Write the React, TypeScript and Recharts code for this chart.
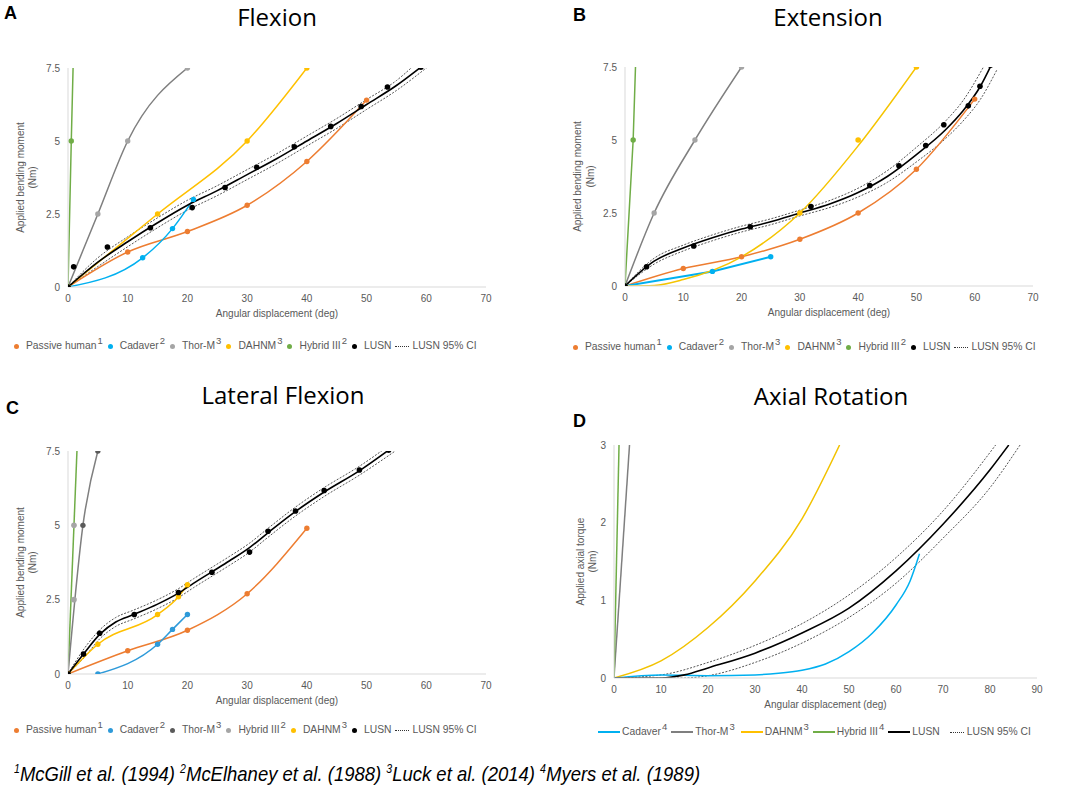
import React from "react";
import { ComposedChart, Line, Scatter, XAxis, YAxis, Label } from "recharts";

type Pt = { x: number; y: number };

// ---- A: Flexion ----
const flexPassive: Pt[] = [
  { x: 0, y: 0 }, { x: 10, y: 1.2 }, { x: 20, y: 1.9 }, { x: 30, y: 2.8 }, { x: 40, y: 4.3 }, { x: 50, y: 6.4 },
];
const flexCadaver: Pt[] = [
  { x: 0, y: 0 }, { x: 12.5, y: 1.0 }, { x: 17.5, y: 2.0 }, { x: 21, y: 3.0 },
];
const flexThor: Pt[] = [
  { x: 0, y: 0 }, { x: 5, y: 2.5 }, { x: 10, y: 5 }, { x: 20, y: 7.5 },
];
const flexDahnm: Pt[] = [
  { x: 0, y: 0 }, { x: 15, y: 2.5 }, { x: 30, y: 5 }, { x: 40, y: 7.5 },
];
const flexHybrid: Pt[] = [
  { x: 0, y: 0 }, { x: 0.55, y: 5 }, { x: 1.15, y: 10 },
];
const flexLusnDots: Pt[] = [
  { x: 0, y: 0 }, { x: 0.95, y: 0.69 }, { x: 6.6, y: 1.37 }, { x: 13.8, y: 2.03 }, { x: 20.8, y: 2.72 },
  { x: 26.3, y: 3.41 }, { x: 31.6, y: 4.1 }, { x: 37.9, y: 4.8 }, { x: 44, y: 5.5 }, { x: 49.1, y: 6.18 },
  { x: 53.5, y: 6.85 }, { x: 59.1, y: 7.53 },
];
const flexLusn: Pt[] = [
  { x: 0, y: 0 }, { x: 5, y: 0.85 }, { x: 10, y: 1.55 }, { x: 15, y: 2.2 }, { x: 20, y: 2.8 }, { x: 25, y: 3.3 },
  { x: 30, y: 3.85 }, { x: 35, y: 4.4 }, { x: 40, y: 5.0 }, { x: 45, y: 5.6 }, { x: 50, y: 6.25 },
  { x: 55, y: 6.9 }, { x: 59.1, y: 7.53 },
];
const flexCiHi: Pt[] = [
  { x: 0, y: 0 }, { x: 5, y: 1.0 }, { x: 10, y: 1.72 }, { x: 15, y: 2.37 }, { x: 20, y: 2.97 }, { x: 25, y: 3.47 },
  { x: 30, y: 4.02 }, { x: 35, y: 4.57 }, { x: 40, y: 5.17 }, { x: 45, y: 5.77 }, { x: 50, y: 6.42 },
  { x: 55, y: 7.07 }, { x: 58, y: 7.6 },
];
const flexCiLo: Pt[] = [
  { x: 0, y: 0 }, { x: 5, y: 0.7 }, { x: 10, y: 1.38 }, { x: 15, y: 2.03 }, { x: 20, y: 2.63 }, { x: 25, y: 3.13 },
  { x: 30, y: 3.68 }, { x: 35, y: 4.23 }, { x: 40, y: 4.83 }, { x: 45, y: 5.43 }, { x: 50, y: 6.08 },
  { x: 55, y: 6.73 }, { x: 60.3, y: 7.55 },
];

// ---- B: Extension ----
const extPassive: Pt[] = [
  { x: 0, y: 0 }, { x: 10, y: 0.6 }, { x: 20, y: 1.0 }, { x: 30, y: 1.6 }, { x: 40, y: 2.5 }, { x: 50, y: 4.0 }, { x: 60, y: 6.4 },
];
const extCadaver: Pt[] = [
  { x: 0, y: 0 }, { x: 15, y: 0.5 }, { x: 25, y: 1.0 },
];
const extThor: Pt[] = [
  { x: 0, y: 0 }, { x: 5, y: 2.5 }, { x: 12, y: 5 }, { x: 20, y: 7.5 },
];
const extDahnm: Pt[] = [
  { x: 0, y: 0 }, { x: 5, y: 0.02 }, { x: 10, y: 0.22 }, { x: 20, y: 1.0 }, { x: 30, y: 2.5 }, { x: 40, y: 4.8 }, { x: 50, y: 7.5 },
];
const extDahnmDots: Pt[] = [{ x: 30, y: 2.5 }, { x: 40, y: 5 }, { x: 50, y: 7.5 }];
const extHybrid: Pt[] = [
  { x: 0, y: 0 }, { x: 1.4, y: 5 }, { x: 2.2, y: 10 },
];
const extLusnDots: Pt[] = [
  { x: 0, y: 0 }, { x: 3.7, y: 0.66 }, { x: 11.8, y: 1.37 }, { x: 21.5, y: 2.03 }, { x: 31.9, y: 2.72 },
  { x: 42, y: 3.44 }, { x: 47, y: 4.12 }, { x: 51.6, y: 4.81 }, { x: 54.7, y: 5.52 }, { x: 58.9, y: 6.17 },
  { x: 60.9, y: 6.84 }, { x: 62.7, y: 7.56 },
];
const extLusn: Pt[] = [
  { x: 0, y: 0 }, { x: 5, y: 0.85 }, { x: 10, y: 1.3 }, { x: 15, y: 1.65 }, { x: 20, y: 1.95 }, { x: 25, y: 2.2 },
  { x: 30, y: 2.5 }, { x: 35, y: 2.8 }, { x: 40, y: 3.2 }, { x: 45, y: 3.75 }, { x: 50, y: 4.5 },
  { x: 55, y: 5.35 }, { x: 58, y: 6.0 }, { x: 61, y: 6.85 }, { x: 62.8, y: 7.55 },
];
const extCiHi: Pt[] = [
  { x: 0, y: 0 }, { x: 5, y: 0.95 }, { x: 10, y: 1.4 }, { x: 15, y: 1.75 }, { x: 20, y: 2.05 }, { x: 25, y: 2.3 },
  { x: 30, y: 2.6 }, { x: 35, y: 2.92 }, { x: 40, y: 3.35 }, { x: 45, y: 3.95 }, { x: 50, y: 4.75 },
  { x: 55, y: 5.65 }, { x: 58, y: 6.35 }, { x: 61.5, y: 7.5 },
];
const extCiLo: Pt[] = [
  { x: 0, y: 0 }, { x: 5, y: 0.75 }, { x: 10, y: 1.2 }, { x: 15, y: 1.55 }, { x: 20, y: 1.85 }, { x: 25, y: 2.1 },
  { x: 30, y: 2.4 }, { x: 35, y: 2.68 }, { x: 40, y: 3.05 }, { x: 45, y: 3.55 }, { x: 50, y: 4.25 },
  { x: 55, y: 5.05 }, { x: 58, y: 5.65 }, { x: 61, y: 6.4 }, { x: 63.8, y: 7.4 },
];

// ---- C: Lateral Flexion ----
const latPassive: Pt[] = [
  { x: 0, y: 0 }, { x: 10, y: 0.78 }, { x: 20, y: 1.47 }, { x: 30, y: 2.7 }, { x: 40, y: 4.9 },
];
const latCadaver: Pt[] = [
  { x: 5, y: 0 }, { x: 15, y: 1.0 }, { x: 17.5, y: 1.5 }, { x: 20, y: 2.0 },
];
const latThor: Pt[] = [
  { x: 0, y: 0 }, { x: 2.5, y: 5 }, { x: 5, y: 7.5 },
];
const latHybridDots: Pt[] = [{ x: 1, y: 2.5 }, { x: 1, y: 5 }];
const latGreen: Pt[] = [{ x: 0, y: 0 }, { x: 1.5, y: 7.5 }];
const latDahnm: Pt[] = [
  { x: 0, y: 0 }, { x: 5, y: 1.0 }, { x: 15, y: 2.0 }, { x: 18.5, y: 2.6 }, { x: 20, y: 3.0 },
];
const latLusnDots: Pt[] = [
  { x: 0, y: 0 }, { x: 2.6, y: 0.67 }, { x: 5.3, y: 1.37 }, { x: 11.1, y: 2.0 }, { x: 18.5, y: 2.74 },
  { x: 24.1, y: 3.42 }, { x: 30.4, y: 4.1 }, { x: 33.5, y: 4.8 }, { x: 38.1, y: 5.48 }, { x: 42.9, y: 6.17 },
  { x: 48.8, y: 6.86 }, { x: 53.7, y: 7.53 },
];
const latLusn: Pt[] = [
  { x: 0, y: 0 }, { x: 2.7, y: 0.7 }, { x: 5.4, y: 1.35 }, { x: 8, y: 1.75 }, { x: 11, y: 2.0 }, { x: 15, y: 2.35 },
  { x: 18.5, y: 2.72 }, { x: 21, y: 3.05 }, { x: 24.2, y: 3.45 }, { x: 27, y: 3.8 }, { x: 30.4, y: 4.25 },
  { x: 33.5, y: 4.75 }, { x: 38, y: 5.45 }, { x: 42.9, y: 6.12 }, { x: 48.9, y: 6.85 }, { x: 53.7, y: 7.53 },
];
const latCiHi: Pt[] = [
  { x: 0, y: 0 }, { x: 2.7, y: 0.85 }, { x: 5.4, y: 1.5 }, { x: 8, y: 1.9 }, { x: 11, y: 2.15 }, { x: 15, y: 2.5 },
  { x: 18.5, y: 2.87 }, { x: 21, y: 3.2 }, { x: 24.2, y: 3.6 }, { x: 27, y: 3.95 }, { x: 30.4, y: 4.4 },
  { x: 33.5, y: 4.9 }, { x: 38, y: 5.6 }, { x: 42.9, y: 6.27 }, { x: 48.9, y: 7.0 }, { x: 53.2, y: 7.6 },
];
const latCiLo: Pt[] = [
  { x: 0, y: 0 }, { x: 2.7, y: 0.55 }, { x: 5.4, y: 1.2 }, { x: 8, y: 1.6 }, { x: 11, y: 1.85 }, { x: 15, y: 2.2 },
  { x: 18.5, y: 2.57 }, { x: 21, y: 2.9 }, { x: 24.2, y: 3.3 }, { x: 27, y: 3.65 }, { x: 30.4, y: 4.1 },
  { x: 33.5, y: 4.6 }, { x: 38, y: 5.3 }, { x: 42.9, y: 5.97 }, { x: 48.9, y: 6.7 }, { x: 54.8, y: 7.5 },
];

// ---- D: Axial Rotation ----
const axCadaver: Pt[] = [
  { x: 0, y: 0 }, { x: 10, y: 0.04 }, { x: 20, y: 0.03 }, { x: 30, y: 0.04 }, { x: 35, y: 0.06 }, { x: 40, y: 0.1 },
  { x: 45, y: 0.18 }, { x: 50, y: 0.34 }, { x: 55, y: 0.58 }, { x: 60, y: 0.94 }, { x: 63, y: 1.25 }, { x: 65, y: 1.6 },
];
const axThor: Pt[] = [{ x: 0, y: 0 }, { x: 3.3, y: 3 }];
const axHybrid: Pt[] = [{ x: 0, y: 0 }, { x: 1.07, y: 3 }];
const axDahnm: Pt[] = [
  { x: 0, y: 0 }, { x: 10, y: 0.22 }, { x: 20, y: 0.65 }, { x: 30, y: 1.25 }, { x: 40, y: 2.05 }, { x: 48, y: 3.0 },
];
const axLusn: Pt[] = [
  { x: 0, y: 0 }, { x: 10, y: 0.0 }, { x: 15, y: 0.04 }, { x: 20, y: 0.13 }, { x: 30, y: 0.32 }, { x: 40, y: 0.58 },
  { x: 50, y: 0.9 }, { x: 60, y: 1.38 }, { x: 70, y: 1.98 }, { x: 80, y: 2.68 }, { x: 84, y: 3.0 },
];
const axCiHi: Pt[] = [
  { x: 0, y: 0 }, { x: 10, y: 0.04 }, { x: 20, y: 0.2 }, { x: 30, y: 0.42 }, { x: 40, y: 0.7 }, { x: 50, y: 1.07 },
  { x: 60, y: 1.55 }, { x: 70, y: 2.15 }, { x: 81.2, y: 3.0 },
];
const axCiLo: Pt[] = [
  { x: 0, y: 0 }, { x: 15, y: 0 }, { x: 20, y: 0.03 }, { x: 30, y: 0.2 }, { x: 40, y: 0.45 }, { x: 50, y: 0.78 },
  { x: 60, y: 1.22 }, { x: 70, y: 1.8 }, { x: 80, y: 2.45 }, { x: 86.4, y: 3.0 },
];

const ticks70 = [0, 10, 20, 30, 40, 50, 60, 70];
const ticks90 = [0, 10, 20, 30, 40, 50, 60, 70, 80, 90];
const ticksMoment = [0, 2.5, 5, 7.5];
const ticksTorque = [0, 1, 2, 3];

const ORANGE = "#ED7D31";
const BLUE = "#00B0F0";
const BLUE_C = "#2E9AD9";
const GRAY = "#7F7F7F";
const LIGHT = "#A5A5A5";
const DARK = "#5A5A5A";
const YELLOW = "#FFC000";
const GREEN = "#70AD47";
const TEXT = "#595959";
const AXIS = "#D9D9D9";
const FONT = "'Liberation Sans', Arial, sans-serif";

type Series = {
  data: Pt[];
  stroke: string;
  dot?: string;
  width?: number;
  dash?: string;
  curve?: "monotone" | "linear";
};

const makeDot = (fill: string, yMax: number) => (p: any) => {
  if (p.payload.y > yMax + 0.01) return <g key={p.index} />;
  return <circle key={p.index} cx={p.cx} cy={p.cy} r={2.7} fill={fill} />;
};

const dotShape = (fill: string) => (p: any) => <circle cx={p.cx} cy={p.cy} r={2.8} fill={fill} />;

type PanelProps = {
  left: number;
  top: number;
  width: number;
  height: number;
  margin: { top: number; right: number; bottom: number; left: number };
  yWidth: number;
  xMax: number;
  xTicks: number[];
  yMax: number;
  yTicks: number[];
  yTitle: string;
  yOffsets: number[];
  series: Series[];
  dots?: { data: Pt[]; fill: string }[];
};

function Panel(props: PanelProps) {
  const { left, top, width, height, margin, yWidth, xMax, xTicks, yMax, yTicks, yTitle, yOffsets, series, dots = [] } = props;
  return (
    <div style={{ position: "absolute", left, top, width, height }}>
      <ComposedChart width={width} height={height} margin={margin}>
        <XAxis
          type="number"
          dataKey="x"
          domain={[0, xMax]}
          ticks={xTicks}
          interval={0}
          height={30}
          allowDataOverflow
          tickLine={false}
          axisLine={{ stroke: AXIS }}
          tick={{ fontSize: 10, fill: TEXT, fontFamily: FONT }}
        >
          <Label
            content={(p: any) => {
              const vb = p.viewBox;
              return (
                <text x={vb.x + vb.width / 2} y={vb.y + 30} textAnchor="middle" fontSize={10} fill={TEXT} fontFamily={FONT}>
                  Angular displacement (deg)
                </text>
              );
            }}
          />
        </XAxis>
        <YAxis
          type="number"
          dataKey="y"
          domain={[0, yMax]}
          ticks={yTicks}
          interval={0}
          width={yWidth}
          allowDataOverflow
          tickLine={false}
          axisLine={{ stroke: AXIS }}
          tick={{ fontSize: 10, fill: TEXT, fontFamily: FONT }}
        >
          <Label
            content={(p: any) => {
              const vb = p.viewBox;
              const cy = vb.y + vb.height / 2;
              const right = vb.x + vb.width;
              return (
                <g>
                  {[yTitle, "(Nm)"].map((t, i) => {
                    const cx = right - yOffsets[i];
                    return (
                      <text
                        key={t}
                        x={cx}
                        y={cy}
                        transform={`rotate(-90 ${cx} ${cy})`}
                        textAnchor="middle"
                        dominantBaseline="central"
                        fontSize={10}
                        fill={TEXT}
                        fontFamily={FONT}
                      >
                        {t}
                      </text>
                    );
                  })}
                </g>
              );
            }}
          />
        </YAxis>
        {series.map((s, i) => (
          <Line
            key={i}
            data={s.data}
            dataKey="y"
            type={s.curve ?? "monotone"}
            stroke={s.stroke}
            strokeWidth={s.width ?? 1.5}
            strokeDasharray={s.dash}
            dot={s.dot ? makeDot(s.dot, yMax) : false}
            activeDot={false}
            isAnimationActive={false}
          />
        ))}
        {dots.map((d, i) => (
          <Scatter key={"s" + i} data={d.data} dataKey="y" shape={dotShape(d.fill)} isAnimationActive={false} />
        ))}
      </ComposedChart>
    </div>
  );
}

type LegendItem = { label: string; sup?: string; color: string; kind: "dot" | "line" | "dash"; gap?: number };

function ChartLegend({ left, top, items }: { left: number; top: number; items: LegendItem[] }) {
  return (
    <div
      style={{
        position: "absolute",
        left,
        top,
        display: "flex",
        alignItems: "center",
        fontFamily: FONT,
        fontSize: 10.3,
        color: TEXT,
        whiteSpace: "nowrap",
        lineHeight: "14px",
      }}
    >
      {items.map((it) => (
        <span key={it.label} style={{ display: "flex", alignItems: "center", marginRight: it.gap ?? 5 }}>
          {it.kind === "dot" && (
            <span style={{ width: 5, height: 5, borderRadius: 3, background: it.color, marginRight: 7 }} />
          )}
          {it.kind === "line" && (
            <span style={{ width: 22, height: 0, borderTop: `2px solid ${it.color}`, marginRight: 2 }} />
          )}
          {it.kind === "dash" && (
            <span style={{ width: 14, height: 0, borderTop: `1px dotted ${it.color}`, marginRight: 3 }} />
          )}
          <span>{it.label}</span>
          {it.sup && <span style={{ fontSize: 9.5, position: "relative", top: -5, marginLeft: 1 }}>{it.sup}</span>}
        </span>
      ))}
    </div>
  );
}

const legendTop: LegendItem[] = [
  { label: "Passive human", sup: "1", color: ORANGE, kind: "dot" },
  { label: "Cadaver", sup: "2", color: BLUE, kind: "dot" },
  { label: "Thor-M", sup: "3", color: LIGHT, kind: "dot" },
  { label: "DAHNM", sup: "3", color: YELLOW, kind: "dot" },
  { label: "Hybrid III", sup: "2", color: GREEN, kind: "dot" },
  { label: "LUSN", color: "#000", kind: "dot", gap: 4 },
  { label: "LUSN 95% CI", color: "#333", kind: "dash" },
];
const legendC: LegendItem[] = [
  { label: "Passive human", sup: "1", color: ORANGE, kind: "dot" },
  { label: "Cadaver", sup: "2", color: BLUE_C, kind: "dot" },
  { label: "Thor-M", sup: "3", color: DARK, kind: "dot" },
  { label: "Hybrid III", sup: "2", color: LIGHT, kind: "dot" },
  { label: "DAHNM", sup: "3", color: YELLOW, kind: "dot" },
  { label: "LUSN", color: "#000", kind: "dot", gap: 4 },
  { label: "LUSN 95% CI", color: "#333", kind: "dash" },
];
const legendD: LegendItem[] = [
  { label: "Cadaver", sup: "4", color: BLUE, kind: "line", gap: 4 },
  { label: "Thor-M", sup: "3", color: GRAY, kind: "line", gap: 6 },
  { label: "DAHNM", sup: "3", color: YELLOW, kind: "line", gap: 4 },
  { label: "Hybrid III", sup: "4", color: GREEN, kind: "line", gap: 4 },
  { label: "LUSN", color: "#000", kind: "line", gap: 10 },
  { label: "LUSN 95% CI", color: "#333", kind: "dash" },
];

const ci = (data: Pt[]): Series => ({ data, stroke: "#555", width: 1, dash: "2 1.5" });

function Title({ x, y, text }: { x: number; y: number; text: string }) {
  return (
    <div
      style={{
        position: "absolute",
        left: x,
        top: y,
        transform: "translate(-50%, -50%)",
        fontFamily: "'Open Sans', sans-serif",
        fontSize: 24,
        lineHeight: "26px",
        color: "#000",
        whiteSpace: "nowrap",
      }}
    >
      {text}
    </div>
  );
}

function Letter({ x, y, text }: { x: number; y: number; text: string }) {
  return (
    <div
      style={{
        position: "absolute",
        left: x,
        top: y,
        transform: "translateY(-50%)",
        fontFamily: FONT,
        fontWeight: "bold",
        fontSize: 18,
        lineHeight: "20px",
        color: "#000",
      }}
    >
      {text}
    </div>
  );
}

export default function App() {
  return (
    <div style={{ position: "absolute", left: 0, top: 0, width: 1065, height: 793, background: "#fff", overflow: "hidden" }}>
      <Letter x={4} y={13} text="A" />
      <Title x={277} y={17} text="Flexion" />
      <Letter x={573} y={15} text="B" />
      <Title x={828} y={17} text="Extension" />
      <Letter x={6} y={408} text="C" />
      <Title x={283} y={395} text="Lateral Flexion" />
      <Letter x={573} y={421} text="D" />
      <Title x={831} y={396} text="Axial Rotation" />

      <Panel
        left={0}
        top={0}
        width={530}
        height={345}
        margin={{ top: 68, right: 44, bottom: 28, left: 0 }}
        yWidth={68}
        xMax={70}
        xTicks={ticks70}
        yMax={7.5}
        yTicks={ticksMoment}
        yTitle="Applied bending moment"
        yOffsets={[48, 36]}
        series={[
          ci(flexCiHi),
          ci(flexCiLo),
          { data: flexPassive, stroke: ORANGE, dot: ORANGE },
          { data: flexCadaver, stroke: BLUE, dot: BLUE },
          { data: flexThor, stroke: GRAY, dot: LIGHT },
          { data: flexDahnm, stroke: YELLOW, dot: YELLOW },
          { data: flexHybrid, stroke: GREEN, dot: GREEN, curve: "linear" },
          { data: flexLusn, stroke: "#000", width: 1.6 },
        ]}
        dots={[{ data: flexLusnDots, fill: "#000" }]}
      />
      <Panel
        left={530}
        top={0}
        width={535}
        height={345}
        margin={{ top: 67, right: 32, bottom: 29, left: 0 }}
        yWidth={95}
        xMax={70}
        xTicks={ticks70}
        yMax={7.5}
        yTicks={ticksMoment}
        yTitle="Applied bending moment"
        yOffsets={[48, 35]}
        series={[
          ci(extCiHi),
          ci(extCiLo),
          { data: extPassive, stroke: ORANGE, dot: ORANGE },
          { data: extCadaver, stroke: BLUE, dot: BLUE, curve: "linear", width: 2 },
          { data: extThor, stroke: GRAY, dot: LIGHT },
          { data: extDahnm, stroke: "#F5C400" },
          { data: extHybrid, stroke: GREEN, dot: GREEN, curve: "linear" },
          { data: extLusn, stroke: "#000", width: 1.6 },
        ]}
        dots={[
          { data: extDahnmDots, fill: YELLOW },
          { data: extLusnDots, fill: "#000" },
        ]}
      />
      <Panel
        left={0}
        top={370}
        width={530}
        height={360}
        margin={{ top: 81, right: 44, bottom: 26, left: 0 }}
        yWidth={68}
        xMax={70}
        xTicks={ticks70}
        yMax={7.5}
        yTicks={ticksMoment}
        yTitle="Applied bending moment"
        yOffsets={[48, 36]}
        series={[
          ci(latCiHi),
          ci(latCiLo),
          { data: latGreen, stroke: GREEN, curve: "linear" },
          { data: latPassive, stroke: ORANGE, dot: ORANGE },
          { data: latCadaver, stroke: BLUE_C, dot: BLUE_C },
          { data: latThor, stroke: GRAY, dot: DARK },
          { data: latDahnm, stroke: YELLOW, dot: YELLOW },
          { data: latLusn, stroke: "#000", width: 1.6 },
        ]}
        dots={[
          { data: latHybridDots, fill: LIGHT },
          { data: latLusnDots, fill: "#000" },
        ]}
      />
      <Panel
        left={530}
        top={370}
        width={535}
        height={360}
        margin={{ top: 75, right: 28, bottom: 22, left: 0 }}
        yWidth={84}
        xMax={90}
        xTicks={ticks90}
        yMax={3}
        yTicks={ticksTorque}
        yTitle="Applied axial torque"
        yOffsets={[34, 22]}
        series={[
          ci(axCiHi),
          ci(axCiLo),
          { data: axThor, stroke: GRAY, curve: "linear" },
          { data: axHybrid, stroke: GREEN, curve: "linear" },
          { data: axDahnm, stroke: "#F2C200" },
          { data: axCadaver, stroke: BLUE },
          { data: axLusn, stroke: "#000", width: 1.6 },
        ]}
      />

      <ChartLegend left={14} top={339} items={legendTop} />
      <ChartLegend left={573} top={340} items={legendTop} />
      <ChartLegend left={14} top={723} items={legendC} />
      <ChartLegend left={598} top={725} items={legendD} />

      <div
        style={{
          position: "absolute",
          left: 14,
          top: 755,
          fontFamily: "'Liberation Sans Narrow', 'Liberation Sans', Arial, sans-serif",
          fontStyle: "italic",
          fontSize: 21,
          lineHeight: "28px",
          color: "#000",
          whiteSpace: "nowrap",
          transform: "scaleX(0.88)",
          transformOrigin: "left center",
        }}
      >
        <sup style={{ fontSize: 12 }}>1</sup>McGill et al. (1994) <sup style={{ fontSize: 12 }}>2</sup>McElhaney et al. (1988){" "}
        <sup style={{ fontSize: 12 }}>3</sup>Luck et al. (2014) <sup style={{ fontSize: 12 }}>4</sup>Myers et al. (1989)
      </div>
    </div>
  );
}
